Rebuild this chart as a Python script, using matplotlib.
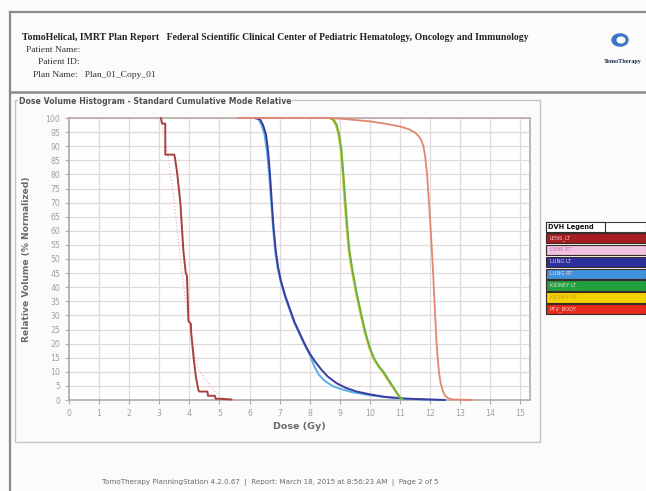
import matplotlib
matplotlib.use("Agg")
import matplotlib.pyplot as plt
from matplotlib.patches import Rectangle, Circle
from matplotlib.lines import Line2D

W, H = 646, 491

# ---------------- data ----------------
lens_lt_dose = [3.05, 3.1, 3.2, 3.2, 3.5, 3.52, 3.6, 3.7, 3.8, 3.88, 3.92, 3.97, 4.05, 4.06,
                4.15, 4.22, 4.3, 4.33, 4.6, 4.62, 4.85, 4.87, 5.4]
lens_lt_vol = [100, 98, 98, 87, 87, 86, 80, 70, 53, 45, 44, 28, 27, 24,
               14, 8, 3.5, 3, 3, 1.5, 1.5, 0.5, 0.2]

lens_rt_dose = [3.0, 3.1, 3.3, 3.5, 3.7, 3.9, 4.1, 4.3, 4.5, 4.7, 4.9, 5.1, 5.3]
lens_rt_vol = [100, 97, 86, 70, 50, 33, 19, 11, 8, 5, 2.5, 0.8, 0]

lung_lt_dose = [6.2, 6.35, 6.45, 6.55, 6.62, 6.68, 6.74, 6.8, 6.87, 6.95, 7.05, 7.2, 7.35,
                7.5, 7.67, 7.85, 8.0, 8.2, 8.4, 8.6, 8.9, 9.2, 9.56, 10.0, 10.5, 11.2, 11.8, 12.5]
lung_lt_vol = [100, 99.5, 97.5, 94, 88, 80, 70, 61, 53, 47, 42, 36.5, 32,
               27.5, 23.6, 19.5, 16.5, 13.3, 10.6, 8.3, 5.9, 4.3, 3.0, 2.0, 1.1, 0.5, 0.25, 0]

lung_rt_dose = [6.15, 6.3, 6.4, 6.5, 6.58, 6.65, 6.72, 6.78, 6.85, 6.93, 7.03, 7.18, 7.33,
                7.48, 7.65, 7.83, 7.98, 8.15, 8.3, 8.5, 8.75, 9.0, 9.4, 10.0, 10.5, 11.2, 12.0, 12.3]
lung_rt_vol = [100, 99.5, 97.5, 94, 88, 80, 70, 61, 53, 47, 42, 36.5, 32,
               27.5, 23.6, 19.5, 16.5, 12.0, 9.0, 6.8, 5.0, 4.0, 2.8, 1.7, 1.0, 0.4, 0.1, 0]

kidney_lt_dose = [8.7, 8.8, 8.9, 8.98, 9.05, 9.12, 9.18, 9.25, 9.32, 9.42, 9.55, 9.7, 9.85,
                  10.0, 10.15, 10.3, 10.45, 10.6, 10.75, 10.9, 11.0, 11.1]
kidney_lt_vol = [100, 99.3, 97.5, 94, 89, 80, 71, 61, 53, 46, 38.5, 31, 24,
                 18.5, 14.5, 12, 10, 7.5, 5, 2.5, 1.0, 0.2]

kidney_rt_dose = [8.65, 8.76, 8.86, 8.95, 9.02, 9.09, 9.15, 9.22, 9.29, 9.39, 9.52, 9.67, 9.82,
                  9.97, 10.12, 10.26, 10.41, 10.56, 10.72, 10.88, 10.98, 11.08]
kidney_rt_vol = [100, 99.3, 97.5, 94, 89, 80, 71, 61, 53, 46, 38.5, 31, 24,
                 18.5, 14.5, 12, 10, 7.5, 5, 2.5, 1.0, 0.2]

ptv_dose = [5.6, 8.5, 9.0, 9.5, 10.0, 10.5, 11.0, 11.3, 11.5, 11.6, 11.7, 11.78, 11.84, 11.9,
            11.95, 12.0, 12.05, 12.1, 12.15, 12.2, 12.25, 12.3, 12.35, 12.42, 12.5, 12.6,
            12.75, 13.4]
ptv_vol = [100, 100, 99.8, 99.3, 98.8, 98, 97, 96, 94.8, 93.8, 92.3, 90, 86, 80,
           72, 64, 55, 45, 34, 23, 15, 9.5, 6, 3.3, 1.5, 0.6,
           0.2, 0]

legend_labels = ["LENS_LT", "LENS RT", "LUNG LT", "LUNG RT", "KIDNEY LT", "KIDNEY RT", "PTV_BODY"]
legend_colors = ["#a51d1f", "#f2c2e2", "#2b2f9c", "#3f93dc", "#23a03e", "#f4d200", "#e62b1c"]
curve_colors = ["#a8403c", "#ecb4cc", "#3a3c9e", "#5aaee6", "#6cae42", "#d8d040", "#e2866e"]

x_ticks = list(range(0, 16))
y_ticks = list(range(0, 101, 5))

# ---------------- figure ----------------
fig = plt.figure(figsize=(W / 100, H / 100), dpi=100)
fig.patch.set_facecolor("#fbfbfb")


def fx(x):
    return x / W


def fy(y):
    return 1 - y / H


def line_px(x0, y0, x1, y1, **kw):
    fig.add_artist(Line2D([fx(x0), fx(x1)], [fy(y0), fy(y1)], transform=fig.transFigure, **kw))


# page border lines
line_px(10, 12, 646, 12, color="#8a8a8a", lw=1.6)
line_px(10, 12, 10, 491, color="#8a8a8a", lw=1.6)
line_px(10, 92, 646, 92, color="#8a8a8a", lw=1.8)

# header text
fig.text(fx(22), fy(38), "TomoHelical, IMRT Plan Report   Federal Scientific Clinical Center of Pediatric Hematology, Oncology and Immunology",
         fontsize=7.0, family="Liberation Serif", weight="bold", color="#222222", va="center", ha="left")
fig.text(fx(26), fy(50), "Patient Name:", fontsize=6.8, family="Liberation Serif", color="#333333", va="center")
fig.text(fx(38), fy(62), "Patient ID:", fontsize=6.8, family="Liberation Serif", color="#333333", va="center")
fig.text(fx(33), fy(75), "Plan Name:   Plan_01_Copy_01", fontsize=6.8, family="Liberation Serif", color="#333333", va="center")

# logo
fig.add_artist(Circle((fx(620), fy(40)), 8.0 / W, transform=fig.transFigure, color="#3a74c8", zorder=3))
fig.add_artist(Circle((fx(621), fy(40)), 3.8 / W, transform=fig.transFigure, color="#ffffff", zorder=4))
fig.text(fx(604), fy(61), "TomoTherapy", fontsize=4.4, family="Liberation Serif", weight="bold",
         color="#1a2a4a", va="center", ha="left")

# panel box
fig.add_artist(Rectangle((fx(15), fy(442)), fx(540) - fx(15), fy(100) - fy(442), transform=fig.transFigure,
                         fill=False, edgecolor="#c9c2c2", lw=1.0))
fig.text(fx(19), fy(101), "Dose Volume Histogram - Standard Cumulative Mode Relative", fontsize=5.6,
         weight="bold", color="#505050", va="center", ha="left",
         bbox=dict(facecolor="#fbfbfb", edgecolor="none", pad=0.5))

# axes
ax = fig.add_axes([fx(69), fy(400), fx(530) - fx(69), fy(118) - fy(400)])
ax.set_facecolor("#ffffff")
ax.set_xlim(0, 15.32)
ax.set_ylim(0, 100)
ax.set_xticks(x_ticks)
ax.set_yticks(y_ticks)
ax.set_xticklabels([str(t) for t in x_ticks])
ax.set_yticklabels([str(t) for t in y_ticks])
ax.grid(True, color="#e2dada", lw=0.9)
ax.set_axisbelow(True)
ax.tick_params(axis="both", labelsize=5.6, labelcolor="#a0a0a0", color="#b0a8a8", length=3, width=0.8)
for s in ax.spines.values():
    s.set_color("#b8a9a9")
    s.set_linewidth(1.2)

ax.set_xlabel("Dose (Gy)", fontsize=6.8, color="#6a6a6a", weight="bold", labelpad=3)
ax.set_ylabel("Relative Volume (% Normalized)", fontsize=6.6, color="#6a6a6a", weight="bold", labelpad=10)

series = [
    (lens_rt_dose, lens_rt_vol, curve_colors[1], 0.9, ":"),
    (lens_lt_dose, lens_lt_vol, curve_colors[0], 1.4, "-"),
    (lung_rt_dose, lung_rt_vol, curve_colors[3], 1.4, "-"),
    (lung_lt_dose, lung_lt_vol, curve_colors[2], 1.4, "-"),
    (kidney_rt_dose, kidney_rt_vol, curve_colors[5], 1.3, "-"),
    (kidney_lt_dose, kidney_lt_vol, curve_colors[4], 1.4, "-"),
    (ptv_dose, ptv_vol, curve_colors[6], 1.3, "-"),
]
for d, v, c, lw, ls in series:
    ax.plot(d, v, color=c, lw=lw, ls=ls, clip_on=False, zorder=3,
            solid_joinstyle="round", solid_capstyle="round")

# legend (drawn as table-like boxes)
lx0, lx1 = 546, 646
hy0, hy1 = 222, 232
fig.add_artist(Rectangle((fx(lx0), fy(hy1)), fx(lx1) - fx(lx0), fy(hy0) - fy(hy1), transform=fig.transFigure,
                         facecolor="#ffffff", edgecolor="#404040", lw=0.8))
fig.add_artist(Rectangle((fx(lx0), fy(hy1)), fx(605) - fx(lx0), fy(hy0) - fy(hy1), transform=fig.transFigure,
                         facecolor="#ffffff", edgecolor="#303030", lw=0.8))
fig.text(fx(548), fy(227), "DVH Legend", fontsize=4.8, color="#111111", weight="bold", va="center", ha="left")
row_h = 11.9
for i, (lab, col) in enumerate(zip(legend_labels, legend_colors)):
    y0 = hy1 + i * row_h + 0.8
    y1 = y0 + row_h - 1.6
    fig.add_artist(Rectangle((fx(lx0), fy(y1)), fx(lx1) - fx(lx0), fy(y0) - fy(y1), transform=fig.transFigure,
                             facecolor=col, edgecolor="#3a2a2a", lw=0.8))
    tc = "#c46aa8" if i == 1 else ("#c89a30" if i == 5 else "#f3d0d0")
    fig.text(fx(550), fy((y0 + y1) / 2), lab, fontsize=3.8, color=tc, va="center", ha="left")

# footer
fig.text(fx(270), fy(482), "TomoTherapy PlanningStation 4.2.0.67  |  Report: March 18, 2015 at 8:56:23 AM  |  Page 2 of 5",
         fontsize=5.1, color="#6a6a6a", va="center", ha="center")

fig.savefig("out.png", dpi=100, facecolor=fig.get_facecolor())
